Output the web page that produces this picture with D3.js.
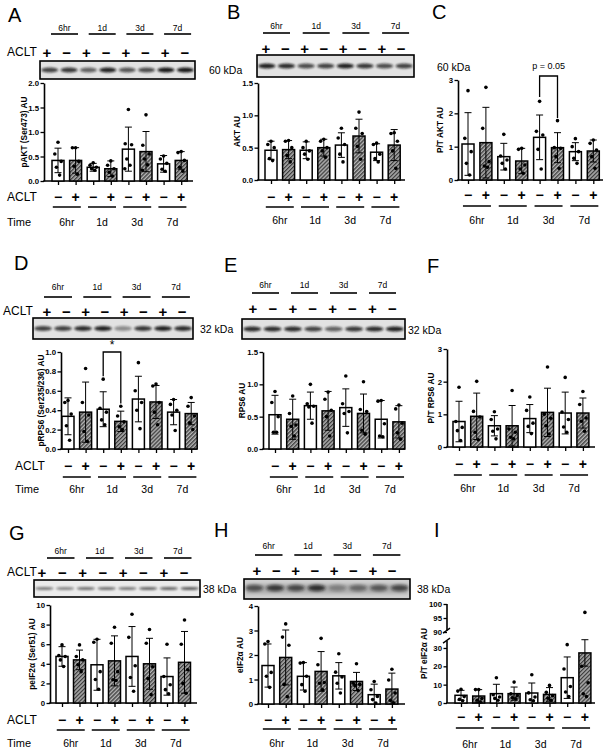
<!DOCTYPE html>
<html><head><meta charset="utf-8">
<script src="https://cdn.jsdelivr.net/npm/d3@7"></script>
<style>body{margin:0;background:#fff}svg{display:block}</style>
</head><body><svg id="c" width="608" height="750"></svg>
<script>
// ---------- shared categories ----------
const times = ["6hr", "1d", "3d", "7d"];
const acltBar = ["\u2212", "+"];             // bar order inside each time point
const laneSigns = ["+", "\u2212", "+", "\u2212", "+", "\u2212", "+", "\u2212"]; // blot lane order
const barKeys = times.flatMap(t => acltBar.map(a => t + " " + a));

// ---------- A: pAKT (Ser473) ----------
const pAKT_mean = [0.42, 0.42, 0.28, 0.25, 0.65, 0.60, 0.35, 0.42];
const pAKT_sd = [0.25, 0.26, 0.08, 0.16, 0.45, 0.41, 0.17, 0.18];
const pAKT_pts = [[0.79,0.55,0.40,0.28,0.12],[0.68,0.68,0.40,0.30,0.14],[0.37,0.32,0.28,0.25,0.22],[0.41,0.32,0.25,0.18,0.10],
  [1.46,0.76,0.74,0.45,0.32,0.25],[1.35,0.73,0.55,0.45,0.33,0.22],[0.51,0.45,0.36,0.24,0.20],[0.60,0.58,0.42,0.28,0.20]];
const pAKT_ticks = [0, 0.5, 1.0, 1.5, 2.0];
const pAKT_blot = [0.75, 0.8, 0.6, 0.9, 0.65, 0.7, 0.95, 0.95];

// ---------- B: AKT ----------
const AKT_mean = [0.46, 0.47, 0.46, 0.50, 0.54, 0.68, 0.43, 0.54];
const AKT_sd = [0.14, 0.14, 0.13, 0.13, 0.19, 0.26, 0.13, 0.24];
const AKT_pts = [[0.60,0.55,0.50,0.33,0.30],[0.61,0.60,0.50,0.38,0.28],[0.60,0.50,0.45,0.40,0.32],[0.63,0.60,0.50,0.45,0.35],
  [0.80,0.65,0.55,0.40,0.28],[1.05,0.80,0.72,0.52,0.32],[0.57,0.55,0.40,0.33,0.28],[0.73,0.72,0.60,0.45,0.18]];
const AKT_ticks = [0, 0.5, 1.0, 1.5];
const AKT_blot = [0.9, 0.85, 0.7, 0.75, 0.9, 0.8, 0.7, 0.75];

// ---------- C: P/T AKT ----------
const ptAKT_mean = [1.08, 1.12, 0.70, 0.57, 1.28, 0.97, 0.85, 0.87];
const ptAKT_sd = [0.94, 1.06, 0.40, 0.38, 0.67, 0.45, 0.27, 0.33];
const ptAKT_pts = [[2.68,1.25,0.85,0.50,0.15],[2.78,1.55,0.55,0.42,0.38],[1.37,0.72,0.60,0.50,0.33],[0.95,0.92,0.45,0.33,0.20],
  [2.36,1.46,1.35,0.92,0.33],[1.78,0.97,0.95,0.70,0.35],[1.24,1.00,0.85,0.65,0.50],[1.20,1.10,0.90,0.70,0.35]];
const ptAKT_ticks = [0, 1, 2, 3];

// ---------- D: pRPS6 (Ser235/236) ----------
const pRPS6_mean = [0.337, 0.38, 0.41, 0.285, 0.515, 0.485, 0.38, 0.365];
const pRPS6_sd = [0.19, 0.31, 0.18, 0.105, 0.235, 0.17, 0.13, 0.115];
const pRPS6_pts = [[0.50,0.48,0.36,0.24,0.09],[0.83,0.48,0.35,0.18,0.08],[0.72,0.42,0.38,0.30,0.25],[0.44,0.34,0.28,0.23,0.20],
  [0.89,0.60,0.48,0.40,0.21],[0.67,0.65,0.48,0.38,0.25],[0.51,0.46,0.40,0.35,0.19],[0.53,0.44,0.34,0.27,0.20]];
const pRPS6_ticks = [0, 0.2, 0.4, 0.6, 0.8, 1.0];
const pRPS6_blot = [0.75, 0.75, 0.85, 0.9, 0.4, 0.8, 0.9, 0.85];

// ---------- E: RPS6 ----------
const RPS6_mean = [0.53, 0.46, 0.67, 0.59, 0.64, 0.55, 0.46, 0.42];
const RPS6_sd = [0.30, 0.31, 0.21, 0.30, 0.29, 0.30, 0.29, 0.25];
const RPS6_pts = [[0.89,0.72,0.50,0.26,0.26],[0.82,0.55,0.37,0.35,0.20],[1.00,0.70,0.66,0.65,0.40],[0.88,0.77,0.60,0.50,0.20],
  [1.13,0.70,0.58,0.55,0.25],[1.04,0.61,0.58,0.29,0.23],[0.75,0.74,0.39,0.20,0.19],[0.68,0.62,0.40,0.25,0.15]];
const RPS6_ticks = [0, 0.5, 1.0, 1.5];
const RPS6_blot = [0.85, 0.85, 0.85, 0.75, 0.6, 0.8, 0.85, 0.9];

// ---------- F: P/T RPS6 ----------
const ptRPS6_mean = [0.78, 0.94, 0.65, 0.65, 0.87, 1.06, 1.04, 1.04];
const ptRPS6_sd = [0.62, 0.71, 0.31, 0.62, 0.43, 0.74, 0.64, 0.46];
const ptRPS6_pts = [[1.83,0.78,0.60,0.50,0.20],[2.01,1.09,0.92,0.45,0.22],[1.08,0.84,0.55,0.48,0.25],[1.73,0.55,0.45,0.30,0.25],
  [1.53,1.12,0.73,0.63,0.41],[2.45,1.00,0.88,0.65,0.40],[2.13,1.07,0.84,0.61,0.45],[1.70,1.30,0.89,0.79,0.48]];
const ptRPS6_ticks = [0, 1, 2, 3];

// ---------- G: peIF2α (Ser51) ----------
const peIF_mean = [4.75, 4.4, 3.9, 4.3, 4.75, 4.0, 2.7, 4.15];
const peIF_sd = [1.0, 1.0, 2.6, 2.55, 3.05, 2.6, 1.9, 3.15];
const peIF_pts = [[5.93,4.85,4.75,4.40,3.73],[5.93,4.75,4.40,3.90,3.20],[6.50,6.20,3.20,2.40,1.40],[7.73,6.10,3.20,2.37,2.30],
  [9.05,6.70,3.80,2.60,1.20],[7.50,6.10,3.70,2.50,0.85],[6.00,2.70,1.86,1.36,0.95],[8.47,6.00,3.40,2.00,1.00]];
const peIF_ticks = [0, 2, 4, 6, 8, 10];
const peIF_blot = [0.5, 0.45, 0.55, 0.55, 0.5, 0.6, 0.6, 0.65];

// ---------- H: eIF2α ----------
const eIF_mean = [1.57, 1.90, 1.13, 1.33, 1.15, 0.92, 0.38, 0.61];
const eIF_sd = [0.88, 1.12, 0.56, 0.81, 0.54, 0.37, 0.43, 0.65];
const eIF_pts = [[2.55,2.45,1.29,1.13,0.68],[3.27,2.73,2.40,0.80,0.30],[1.69,1.67,1.13,0.79,0.52],[2.68,1.60,0.88,0.85,0.58],
  [2.05,1.30,1.10,0.85,0.45],[1.64,0.85,0.80,0.75,0.55],[0.92,0.58,0.31,0.18,0.04],[1.42,0.98,0.45,0.15,0.05]];
const eIF_ticks = [0, 1, 2, 3, 4];
const eIF_blot = [0.6, 0.75, 0.65, 0.8, 0.3, 0.45, 0.55, 0.65];

// ---------- I: P/T eIF2α (broken axis) ----------
const pteIF_mean = [4.2, 3.8, 5.1, 5.1, 5.45, 4.7, 13.8, 27.3];
const pteIF_sd = [2.7, 3.5, 5.1, 3.6, 5.45, 3.7, 11.3, 7.2];
const pteIF_pts = [[7.5,6.5,3.5,2.0,1.2],[7.3,7.3,2.4,1.5,0.5],[13.8,4.5,3.3,2.5,1.5],[11.4,5.0,4.0,2.8,2.3],
  [15.4,5.5,3.3,1.8,1.2],[9.6,5.8,4.0,2.6,1.5],[31.8,18.5,9.0,6.0,3.5],[97,20,11,5,3.5]];
const pteIF_ticks = [0, 10, 20, 30, 90, 95, 100];

// ---------- drawing ----------
const FONT = '"Liberation Sans", Arial, Helvetica, sans-serif';
const svg = d3.select("#c").attr("font-family", FONT);
const defs = svg.append("defs");
const pat = defs.append("pattern").attr("id", "hatch").attr("patternUnits", "userSpaceOnUse")
  .attr("width", 2.8).attr("height", 2.8).attr("patternTransform", "rotate(45)");
pat.append("rect").attr("width", 2.8).attr("height", 2.8).attr("fill", "#b4b4b4");
pat.append("line").attr("x1", 0.7).attr("x2", 0.7).attr("y1", 0).attr("y2", 2.8).attr("stroke", "#2a2a2a").attr("stroke-width", 1.15);
defs.append("filter").attr("id", "blur").attr("x", "-50%").attr("y", "-200%").attr("width", "200%").attr("height", "500%")
  .append("feGaussianBlur").attr("stdDeviation", 1.0);
defs.append("filter").attr("id", "blur2").attr("x", "-50%").attr("y", "-200%").attr("width", "200%").attr("height", "500%")
  .append("feGaussianBlur").attr("stdDeviation", 1.8);

const jit = [0, -3.2, 3.2, -1.6, 1.6, -3.6];

function txt(g, x, y, s, size, opts = {}) {
  return g.append("text").attr("x", x).attr("y", y).attr("font-size", size)
    .attr("text-anchor", opts.anchor || "start").attr("dominant-baseline", opts.base || "central")
    .attr("font-weight", opts.weight || "normal").text(s);
}

function drawPanel(p) {
  const g = svg.append("g");
  txt(g, p.lx, p.ly, p.letter, 20, { base: "auto" });

  if (p.hdr) {
    const h = p.hdr;
    times.forEach((t, k) => {
      const x0 = h.x0 + k * h.step;
      g.append("line").attr("x1", x0).attr("x2", x0 + h.w).attr("y1", h.lineY).attr("y2", h.lineY)
        .attr("stroke", "#000").attr("stroke-width", 1.6);
      txt(g, x0 + h.w / 2, h.textY, t, 8.5, { anchor: "middle" });
    });
  }
  if (p.signs) {
    const s = p.signs;
    laneSigns.forEach((sg, i) => txt(g, s.x0 + i * s.step, s.y, sg, 15, { anchor: "middle", weight: "bold" }));
    if (s.label) txt(g, s.lx, s.y, "ACLT", 12);
  }
  if (p.blot) {
    const b = p.blot, lw = b.w / 8;
    g.append("rect").attr("x", b.x).attr("y", b.y).attr("width", b.w).attr("height", b.h).attr("fill", b.bg);
    if (b.smear) {
      g.append("rect").attr("x", b.x + 2).attr("y", b.y + b.h * 0.25).attr("width", b.w - 4).attr("height", b.h * 0.5)
        .attr("fill", "#777").attr("opacity", 0.35).attr("filter", "url(#blur2)");
    }
    g.selectAll(null).data(b.bands).join("ellipse")
      .attr("cx", (d, i) => b.x + lw * (i + 0.5)).attr("cy", b.y + b.h * b.by)
      .attr("rx", lw * 0.44).attr("ry", b.bh).attr("fill", "#111").attr("opacity", d => d)
      .attr("filter", b.smear ? "url(#blur2)" : "url(#blur)");
    g.append("rect").attr("x", b.x).attr("y", b.y).attr("width", b.w).attr("height", b.h)
      .attr("fill", "none").attr("stroke", "#000").attr("stroke-width", 1.6);
  }
  if (p.kda) txt(g, p.kda.x, p.kda.y, p.kda.text, 10.5);

  // ---- chart ----
  const c = p.chart;
  const y = d3.scaleLinear().domain(c.domain).range(c.range);
  const x = d3.scalePoint().domain(barKeys).range([c.bar0, c.bar0 + 7 * c.step]);
  const yBot = c.range[0];

  const gy = g.append("g").attr("transform", `translate(${c.axisX},0)`)
    .call(d3.axisLeft(y).tickValues(c.ticks).tickFormat(d3.format(c.fmt)).tickSize(3.5).tickSizeOuter(0).tickPadding(1.5));
  gy.attr("font-family", FONT).attr("font-size", 7.8).attr("font-weight", "bold");
  gy.selectAll(".tick line").attr("stroke-width", 1.3);
  gy.select(".domain").attr("stroke-width", 1.6);
  if (c.brk) {
    gy.select(".domain").remove();
    gy.append("line").attr("x1", 0).attr("x2", 0).attr("y1", y(c.brk[0])).attr("y2", yBot).attr("stroke", "#000").attr("stroke-width", 1.6);
    gy.append("line").attr("x1", 0).attr("x2", 0).attr("y1", y(c.domain[c.domain.length - 1])).attr("y2", y(c.brk[1])).attr("stroke", "#000").attr("stroke-width", 1.6);
    [c.brk[0], c.brk[1]].forEach(v => {
      const yy = y(v);
      gy.append("line").attr("x1", -4).attr("x2", 3).attr("y1", yy + 2.5).attr("y2", yy - 2.5).attr("stroke", "#000").attr("stroke-width", 1.3);
    });
  }

  const gx = g.append("g").attr("transform", `translate(0,${yBot})`)
    .call(d3.axisBottom(x).tickSize(4).tickFormat(""));
  gx.select(".domain").remove();
  gx.selectAll(".tick line").attr("stroke-width", 1.3);
  g.append("line").attr("x1", c.axisX - 0.8).attr("x2", c.xEnd).attr("y1", yBot).attr("y2", yBot)
    .attr("stroke", "#000").attr("stroke-width", 1.6);

  // bars
  g.selectAll(null).data(barKeys).join("rect")
    .attr("x", d => x(d) - c.bw / 2).attr("width", c.bw)
    .attr("y", (d, i) => y(c.mean[i])).attr("height", (d, i) => yBot - y(c.mean[i]))
    .attr("fill", (d, i) => i % 2 ? "url(#hatch)" : "#fff").attr("stroke", "#000").attr("stroke-width", 1.5);

  // error bars
  barKeys.forEach((k, i) => {
    const lo = Math.max(0, c.mean[i] - c.sd[i]), hi = c.mean[i] + c.sd[i], cx = x(k);
    g.append("line").attr("x1", cx).attr("x2", cx).attr("y1", y(lo)).attr("y2", y(hi)).attr("stroke", "#000").attr("stroke-width", 1);
    g.append("line").attr("x1", cx - 3.5).attr("x2", cx + 3.5).attr("y1", y(hi)).attr("y2", y(hi)).attr("stroke", "#000").attr("stroke-width", 1);
    if (lo > 0) g.append("line").attr("x1", cx - 3.5).attr("x2", cx + 3.5).attr("y1", y(lo)).attr("y2", y(lo)).attr("stroke", "#000").attr("stroke-width", 1);
  });

  // points
  barKeys.forEach((k, i) => {
    g.selectAll(null).data(c.pts[i]).join("circle")
      .attr("cx", (d, j) => x(k) + jit[j]).attr("cy", d => y(d)).attr("r", 1.8).attr("fill", "#000");
  });

  // significance bracket
  if (c.bracket) {
    const b = c.bracket, xl = x(barKeys[b.i]), xr = x(barKeys[b.j]);
    g.append("path").attr("d", `M${xl},${y(b.l)}V${y(b.top)}H${xr}V${y(b.r)}`)
      .attr("fill", "none").attr("stroke", "#000").attr("stroke-width", 1.3);
    txt(g, (xl + xr) / 2, b.ly, b.label, b.fs, { anchor: "middle" });
  }

  // y label
  const ym = (c.range[0] + c.range[c.range.length - 1]) / 2;
  g.append("text").attr("transform", `translate(${c.ylx},${ym}) rotate(-90)`).attr("text-anchor", "middle")
    .attr("dominant-baseline", "central").attr("font-size", 8.3).attr("font-weight", "bold").text(c.ylabel);

  // bottom labels
  const bt = p.bottom;
  barKeys.forEach((k, i) => txt(g, x(k), bt.signY, acltBar[i % 2], 14, { anchor: "middle", weight: "bold" }));
  times.forEach((t, k) => {
    const cx = (x(barKeys[2 * k]) + x(barKeys[2 * k + 1])) / 2;
    g.append("line").attr("x1", cx - 14).attr("x2", cx + 14).attr("y1", bt.lineY).attr("y2", bt.lineY)
      .attr("stroke", "#000").attr("stroke-width", 1.5);
    txt(g, cx, bt.timeY, t, 10.5, { anchor: "middle" });
  });
  if (bt.lx !== undefined) {
    txt(g, bt.lx, bt.signY, "ACLT", 12);
    txt(g, bt.lx, bt.timeY, "Time", 11);
  }
}

const panels = [
  { letter: "A", lx: 8, ly: 22,
    hdr: { x0: 51, w: 27, step: 37.7, textY: 28, lineY: 34 },
    signs: { x0: 47, step: 19.7, y: 52, label: true, lx: 7 },
    blot: { x: 40, y: 61, w: 155, h: 18, bg: "#e2e2e2", bands: pAKT_blot, by: 0.5, bh: 2.4 },
    kda: { text: "60 kDa", x: 209, y: 70 },
    chart: { axisX: 44, range: [181, 83], domain: [0, 2], xEnd: 193, bar0: 58, step: 17.6, bw: 12, ticks: pAKT_ticks, fmt: ".1f",
      mean: pAKT_mean, sd: pAKT_sd, pts: pAKT_pts, ylabel: "pAKT (Ser473) AU", ylx: 24 },
    bottom: { signY: 197, lineY: 207, timeY: 222, lx: 7 } },
  { letter: "B", lx: 227, ly: 19,
    hdr: { x0: 263, w: 27, step: 39.7, textY: 26, lineY: 33 },
    signs: { x0: 266, step: 19.3, y: 48 },
    blot: { x: 257, y: 55, w: 157, h: 22, bg: "#e2e2e2", bands: AKT_blot, by: 0.5, bh: 2.4 },
    kda: { text: "60 kDa", x: 437, y: 67 },
    chart: { axisX: 258, range: [180, 83], domain: [0, 1.5], xEnd: 405, bar0: 271, step: 17.6, bw: 12, ticks: AKT_ticks, fmt: ".1f",
      mean: AKT_mean, sd: AKT_sd, pts: AKT_pts, ylabel: "AKT AU", ylx: 237 },
    bottom: { signY: 197, lineY: 207, timeY: 220 } },
  { letter: "C", lx: 432, ly: 19,
    chart: { axisX: 458, range: [180, 80], domain: [0, 3], xEnd: 603, bar0: 468, step: 17.9, bw: 12, ticks: ptAKT_ticks, fmt: "d",
      mean: ptAKT_mean, sd: ptAKT_sd, pts: ptAKT_pts, ylabel: "P/T AKT AU", ylx: 440,
      bracket: { i: 4, j: 5, top: 3.12, l: 2.49, r: 1.86, label: "p = 0.05", ly: 66, fs: 9 } },
    bottom: { signY: 195, lineY: 206, timeY: 220 } },
  { letter: "D", lx: 14, ly: 270,
    hdr: { x0: 44, w: 28, step: 39.3, textY: 287, lineY: 297 },
    signs: { x0: 47, step: 19.3, y: 311, label: true, lx: 3 },
    blot: { x: 33, y: 318, w: 160, h: 21, bg: "#e2e2e2", bands: pRPS6_blot, by: 0.5, bh: 2.4 },
    kda: { text: "32 kDa", x: 200, y: 329 },
    chart: { axisX: 61, range: [449, 352], domain: [0, 1], xEnd: 197, bar0: 68, step: 17.6, bw: 12, ticks: pRPS6_ticks, fmt: ".1f",
      mean: pRPS6_mean, sd: pRPS6_sd, pts: pRPS6_pts, ylabel: "pRPS6 (Ser235/236) AU", ylx: 41,
      bracket: { i: 2, j: 3, top: 1.0, l: 0.75, r: 0.47, label: "*", ly: 345, fs: 12 } },
    bottom: { signY: 466, lineY: 477, timeY: 489, lx: 15 } },
  { letter: "E", lx: 224, ly: 272,
    hdr: { x0: 252, w: 27, step: 39, textY: 285, lineY: 293 },
    signs: { x0: 253, step: 19.9, y: 308 },
    blot: { x: 242, y: 319, w: 163, h: 20, bg: "#e2e2e2", bands: RPS6_blot, by: 0.5, bh: 2.4 },
    kda: { text: "32 kDa", x: 408, y: 330 },
    chart: { axisX: 263, range: [449, 352], domain: [0, 1.5], xEnd: 405, bar0: 275, step: 17.7, bw: 12, ticks: RPS6_ticks, fmt: ".1f",
      mean: RPS6_mean, sd: RPS6_sd, pts: RPS6_pts, ylabel: "RPS6 AU", ylx: 242 },
    bottom: { signY: 466, lineY: 477, timeY: 489 } },
  { letter: "F", lx: 427, ly: 273,
    chart: { axisX: 447, range: [447, 349], domain: [0, 3], xEnd: 595, bar0: 459, step: 17.7, bw: 12, ticks: ptRPS6_ticks, fmt: "d",
      mean: ptRPS6_mean, sd: ptRPS6_sd, pts: ptRPS6_pts, ylabel: "P/T RPS6 AU", ylx: 431 },
    bottom: { signY: 464, lineY: 475, timeY: 488 } },
  { letter: "G", lx: 9, ly: 540,
    hdr: { x0: 47, w: 27.5, step: 39, textY: 551, lineY: 558 },
    signs: { x0: 42, step: 20.3, y: 572, label: true, lx: 7 },
    blot: { x: 34, y: 580, w: 166, h: 17, bg: "#ebebeb", bands: peIF_blot, by: 0.5, bh: 1.6 },
    kda: { text: "38 kDa", x: 203, y: 589 },
    chart: { axisX: 50, range: [703, 605], domain: [0, 10], xEnd: 197, bar0: 62, step: 17.5, bw: 12, ticks: peIF_ticks, fmt: "d",
      mean: peIF_mean, sd: peIF_sd, pts: peIF_pts, ylabel: "peIF2\u03b1 (Ser51) AU", ylx: 32 },
    bottom: { signY: 720, lineY: 730, timeY: 743, lx: 7 } },
  { letter: "H", lx: 214, ly: 537,
    hdr: { x0: 255, w: 27.5, step: 39.3, textY: 546, lineY: 555 },
    signs: { x0: 257, step: 19.3, y: 570 },
    blot: { x: 244, y: 579, w: 166, h: 20, bg: "#cfcfcf", bands: eIF_blot, by: 0.45, bh: 3.2, smear: true },
    kda: { text: "38 kDa", x: 417, y: 589 },
    chart: { axisX: 258, range: [704, 606], domain: [0, 4], xEnd: 405, bar0: 268, step: 17.7, bw: 12, ticks: eIF_ticks, fmt: "d",
      mean: eIF_mean, sd: eIF_sd, pts: eIF_pts, ylabel: "eIF2\u03b1 AU", ylx: 240 },
    bottom: { signY: 720, lineY: 729, timeY: 743 } },
  { letter: "I", lx: 434, ly: 537,
    chart: { axisX: 447, range: [703, 638.8, 634.8, 604], domain: [0, 35, 89, 100], brk: [34, 90.5], xEnd: 595, bar0: 461, step: 17.7, bw: 12,
      ticks: pteIF_ticks, fmt: "d", mean: pteIF_mean, sd: pteIF_sd, pts: pteIF_pts, ylabel: "P/T eIF2\u03b1 AU", ylx: 424 },
    bottom: { signY: 717, lineY: 728, timeY: 744 } }
];

panels.forEach(drawPanel);
</script></body></html>
